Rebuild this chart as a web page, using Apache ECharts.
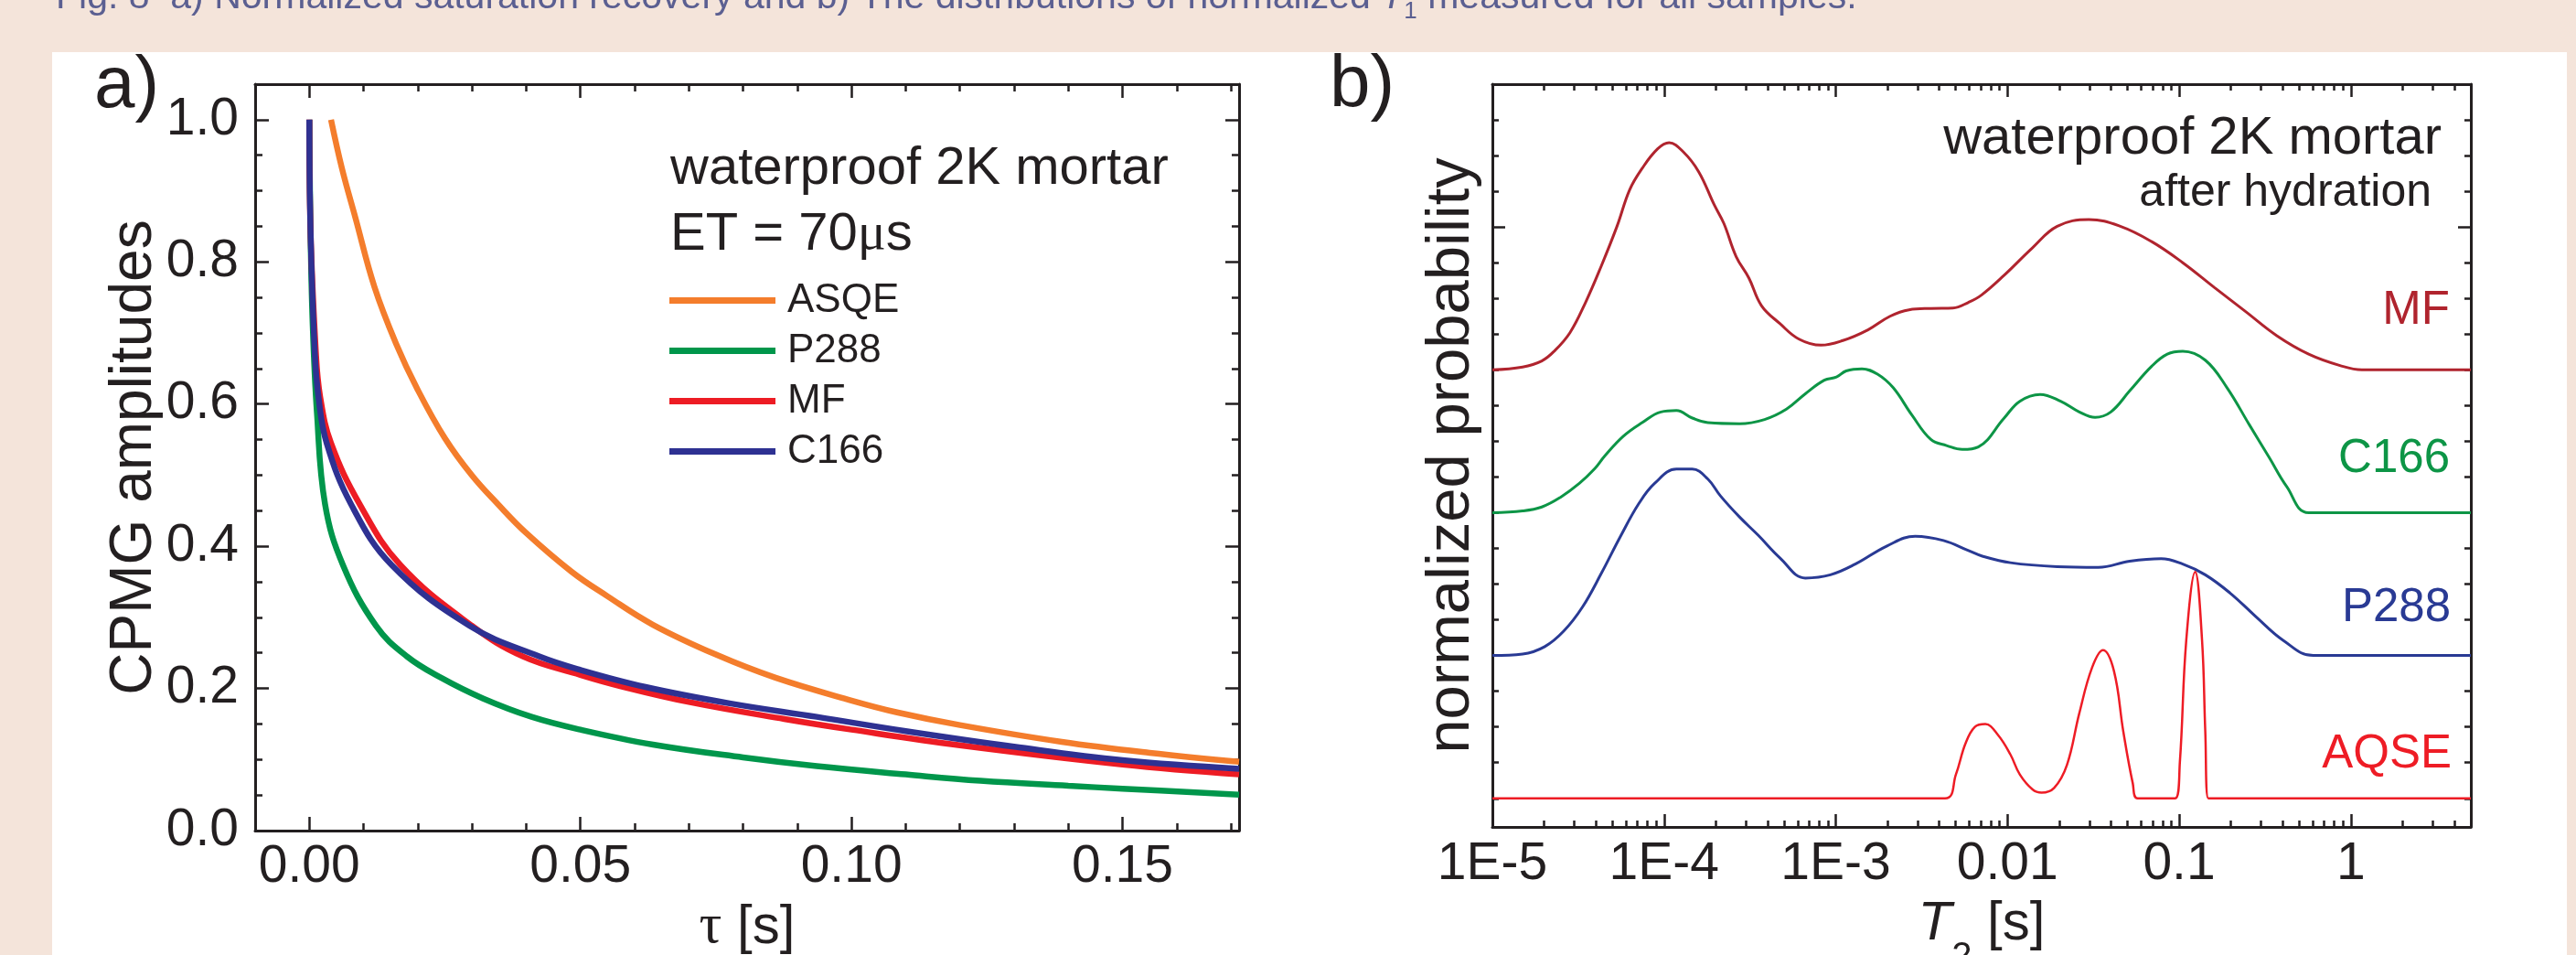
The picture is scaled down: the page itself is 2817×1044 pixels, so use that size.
<!DOCTYPE html>
<html>
<head>
<meta charset="utf-8">
<script src="https://cdn.jsdelivr.net/npm/echarts@6/dist/echarts.min.js"></script>
<style>
html,body{margin:0;padding:0;background:#f4e4da;}
#c{width:2817px;height:1044px;}
</style>
</head>
<body>
<div id="c"></div>
<script>
// ---------------- Panel a: CPMG decays ----------------
const tauASQE = [0.004, 0.006, 0.0085, 0.012, 0.016, 0.020, 0.025, 0.030, 0.0348, 0.040, 0.0484, 0.055, 0.0634, 0.075, 0.086, 0.10, 0.1086, 0.12, 0.1388, 0.155, 0.1715];
const ampASQE = [1.0, 0.932, 0.862, 0.765, 0.685, 0.620, 0.552, 0.4995, 0.459, 0.4186, 0.364, 0.3296, 0.2895, 0.2476, 0.215, 0.183, 0.166, 0.1484, 0.1248, 0.1094, 0.0968];

const tauP288 = [0, 0.0002, 0.0006, 0.0014, 0.0029, 0.0062, 0.0123, 0.018, 0.0243, 0.032, 0.041, 0.05, 0.0634, 0.08, 0.0936, 0.11, 0.1238, 0.14, 0.15, 0.1715];
const ampP288 = [1.0, 0.85, 0.716, 0.588, 0.459, 0.3735, 0.288, 0.245, 0.215, 0.186, 0.160, 0.142, 0.121, 0.103, 0.0907, 0.079, 0.070, 0.063, 0.059, 0.0505];

const tauMF = [0, 0.0002, 0.0012, 0.002, 0.004, 0.0093, 0.0168, 0.030, 0.0394, 0.05, 0.0575, 0.07, 0.0876, 0.10, 0.12, 0.15, 0.1715];
const ampMF = [1.0, 0.85, 0.673, 0.61, 0.545, 0.459, 0.3735, 0.288, 0.245, 0.219, 0.203, 0.181, 0.157, 0.142, 0.120, 0.093, 0.079];

const tauC166 = [0, 0.0002, 0.001, 0.0017, 0.0032, 0.0077, 0.0152, 0.0296, 0.0424, 0.05, 0.062, 0.0775, 0.0936, 0.11, 0.13, 0.15, 0.1715];
const ampC166 = [1.0, 0.85, 0.673, 0.609, 0.545, 0.459, 0.3735, 0.288, 0.245, 0.226, 0.202, 0.179, 0.160, 0.140, 0.118, 0.099, 0.087];

const aXMajor = [0, 0.05, 0.10, 0.15];
const aXMinor = [0.01, 0.02, 0.03, 0.04, 0.06, 0.07, 0.08, 0.09, 0.11, 0.12, 0.13, 0.14, 0.16, 0.17];
const aYMajor = [0, 0.2, 0.4, 0.6, 0.8, 1.0];
const aYMinor = [0.05, 0.1, 0.15, 0.25, 0.3, 0.35, 0.45, 0.5, 0.55, 0.65, 0.7, 0.75, 0.85, 0.9, 0.95];
const legendA = ['ASQE', 'P288', 'MF', 'C166'];

// ---------------- Panel b: T2 distributions ----------------
const t2MF = [1e-5, 1.50e-5, 1.94e-5, 2.29e-5, 2.83e-5, 3.49e-5, 4.31e-5, 5.32e-5, 6.30e-5, 7.45e-5, 9.18e-5, 1.07e-4, 1.29e-4, 1.59e-4, 1.96e-4, 2.23e-4, 2.63e-4, 3.12e-4, 3.69e-4, 4.74e-4, 6.11e-4, 8.20e-4, 1.10e-3, 1.54e-3, 2.07e-3, 2.67e-3, 3.58e-3, 4.81e-3, 5.93e-3, 7.08e-3, 9.57e-3, 0.0140, 0.0195, 0.0298, 0.0454, 0.0692, 0.105, 0.160, 0.244, 0.372, 0.568, 0.865, 1.16, 5];
const pMF  = [0, 0.08, 0.25, 0.52, 1.04, 1.89, 2.91, 4.02, 5.04, 5.64, 6.19, 6.36, 6.11, 5.55, 4.62, 4.10, 3.17, 2.57, 1.80, 1.29, 0.86, 0.69, 0.82, 1.12, 1.50, 1.68, 1.72, 1.73, 1.89, 2.10, 2.65, 3.42, 4.02, 4.21, 4.02, 3.59, 3.00, 2.31, 1.63, 0.95, 0.44, 0.12, 0, 0];

const t2C166 = [1e-5, 1.50e-5, 1.94e-5, 2.49e-5, 3.21e-5, 3.96e-5, 4.50e-5, 5.79e-5, 7.45e-5, 9.59e-5, 1.18e-4, 1.46e-4, 1.80e-4, 2.75e-4, 3.85e-4, 5.16e-4, 6.65e-4, 8.57e-4, 1.01e-3, 1.15e-3, 1.42e-3, 1.75e-3, 2.16e-3, 2.78e-3, 3.58e-3, 4.42e-3, 5.46e-3, 6.76e-3, 9.57e-3, 0.0118, 0.0155, 0.0204, 0.0262, 0.0324, 0.0400, 0.0515, 0.0692, 0.0853, 0.105, 0.142, 0.190, 0.255, 0.335, 0.423, 0.568, 5];
const pC166  = [0, 0.05, 0.16, 0.43, 0.82, 1.24, 1.58, 2.14, 2.52, 2.82, 2.86, 2.65, 2.52, 2.49, 2.61, 2.90, 3.33, 3.71, 3.80, 3.97, 4.03, 3.88, 3.50, 2.73, 2.05, 1.88, 1.77, 1.84, 2.65, 3.12, 3.31, 3.12, 2.82, 2.67, 2.82, 3.41, 4.10, 4.44, 4.52, 4.27, 3.50, 2.48, 1.54, 0.73, 0, 0];

const t2P288 = [1e-5, 1.50e-5, 2.02e-5, 2.60e-5, 3.35e-5, 4.31e-5, 5.55e-5, 7.14e-5, 8.81e-5, 1.18e-4, 1.46e-4, 1.80e-4, 2.13e-4, 2.75e-4, 3.53e-4, 4.74e-4, 6.65e-4, 9.31e-4, 1.30e-3, 1.99e-3, 2.90e-3, 4.24e-3, 5.93e-3, 7.08e-3, 0.0104, 0.0195, 0.0338, 0.0515, 0.0785, 0.105, 0.142, 0.198, 0.277, 0.405, 0.604, 5];
const pP288  = [0, 0.04, 0.25, 0.68, 1.36, 2.30, 3.32, 4.26, 4.82, 5.22, 5.22, 4.94, 4.47, 3.88, 3.37, 2.73, 2.17, 2.26, 2.56, 3.07, 3.34, 3.22, 2.94, 2.79, 2.60, 2.49, 2.47, 2.64, 2.71, 2.56, 2.26, 1.75, 1.11, 0.42, 0, 0];

const t2AQSE = [1e-5, 4.33e-3, 5.01e-3, 5.69e-3, 6.46e-3, 7.43e-3, 8.79e-3, 0.0104, 0.0118, 0.0140, 0.0158, 0.0187, 0.0222, 0.0262, 0.0311, 0.0360, 0.0417, 0.0473, 0.0537, 0.0573, 0.0948, 0.101, 0.110, 0.124, 0.136, 0.142, 0.148, 5];
const pAQSE  = [0, 0, 0.67, 1.53, 2.00, 2.08, 1.78, 1.23, 0.67, 0.25, 0.16, 0.29, 0.93, 2.38, 3.66, 4.15, 3.57, 1.87, 0.42, 0, 0, 1.02, 4.42, 6.34, 4.42, 1.87, 0, 0];

const baseOffsets = {MF: 12, C166: 8, P288: 4, AQSE: 0};
const bXLabels = ['1E-5', '1E-4', '1E-3', '0.01', '0.1', '1'];
const bXMinor = [];
[1e-5, 1e-4, 1e-3, 1e-2, 1e-1, 1].forEach(d => { for (let k = 2; k <= 9; k++) { const v = k * d; if (v < 5) bXMinor.push(v); } });
const bYMajor = [16];
const bYMinor = [0,1,2,3,4,5,6,7,8,9,10,11,12,13,14,15,17,18,19];

// ---------------- styling ----------------
const INK = '#231f20';
const FONT = "'Liberation Sans', Arial, Helvetica, sans-serif";
const SERIF = "'Liberation Serif', 'DejaVu Serif', serif";
const colA = {ASQE: '#f47d2c', P288: '#00964b', MF: '#ed1c24', C166: '#2e3192'};
const colB = {MF: '#b0242e', C166: '#0d9546', P288: '#293a94', AQSE: '#ee1c25'};

const lineAx = {show: true, onZero: false, lineStyle: {color: INK, width: 3}};
function tick(len, vals) {
  const t = {show: true, inside: true, length: len, lineStyle: {color: INK, width: 2.5}};
  if (vals) t.customValues = vals;
  return t;
}
function ax(base, extra) {
  return Object.assign({show: true, splitLine: {show: false}, axisLabel: {show: false},
    axisLine: {show: false, onZero: false}, nameMoveOverlap: false, axisPointer: {show: false}}, base, extra);
}
const aX = {type: 'value', gridIndex: 0, min: -0.01, max: 0.1715};
const aY = {type: 'value', gridIndex: 0, min: 0, max: 1.05};
const bX = {type: 'log', logBase: 10, gridIndex: 1, min: 1e-5, max: 5};
const bY = {type: 'value', gridIndex: 1, min: -0.8, max: 20};

function zip(xs, ys, off) { return xs.map((x, i) => [x, ys[i] + (off || 0)]); }
function lineA(name, xs, ys) {
  return {type: 'line', name, xAxisIndex: 0, yAxisIndex: 0, data: zip(xs, ys), showSymbol: false, symbol: 'none',
    smooth: 0.4, lineStyle: {color: colA[name], width: 6.5}, itemStyle: {color: colA[name]}, silent: true};
}
function lineB(name, xs, ys, w) {
  return {type: 'line', name, xAxisIndex: 4, yAxisIndex: 4, data: zip(xs, ys, baseOffsets[name]), showSymbol: false, symbol: 'none',
    smooth: 0.4, lineStyle: {color: colB[name], width: w}, itemStyle: {color: colB[name]}, silent: true};
}
function txt(x, y, text, size, color, align, extra) {
  return Object.assign({type: 'text', x, y, z: 50, silent: true,
    style: {text, fill: color, fontSize: size, fontFamily: FONT, align: align || 'left', verticalAlign: 'middle'}}, extra || {});
}

const option = {
  animation: false,
  backgroundColor: '#f4e4da',
  textStyle: {fontFamily: FONT},
  grid: [
    {left: 279, top: 92, width: 1076, height: 816, containLabel: false, outerBoundsMode: 'none'},
    {left: 1632, top: 92, width: 1070, height: 812, containLabel: false, outerBoundsMode: 'none'}
  ],
  legend: {
    data: legendA, orient: 'vertical', left: 732, top: 301, padding: 0, itemGap: 0,
    itemWidth: 116, itemHeight: 7, icon: 'rect', selectedMode: false,
    textStyle: {fontSize: 44, color: INK, fontFamily: FONT, lineHeight: 55, padding: [0, 0, 0, 8]}
  },
  xAxis: [
    ax(aX, {position: 'bottom', axisLine: lineAx, axisTick: tick(15, aXMajor),
      axisLabel: {show: true, customValues: aXMajor, formatter: v => v.toFixed(2), margin: 12, fontSize: 57, color: INK, fontFamily: FONT},
      name: '{g|τ} [s]', nameLocation: 'middle', nameGap: 75,
      nameTextStyle: {fontSize: 60, color: INK, fontFamily: FONT, rich: {g: {fontSize: 62, fontFamily: SERIF, color: INK}}}}),
    ax(aX, {position: 'bottom', axisTick: tick(8, aXMinor)}),
    ax(aX, {position: 'top', axisLine: lineAx, axisTick: tick(15, aXMajor)}),
    ax(aX, {position: 'top', axisTick: tick(8, aXMinor)}),
    ax(bX, {position: 'bottom', axisLine: lineAx, axisTick: tick(14),
      axisLabel: {show: true, margin: 13, fontSize: 57, color: INK, fontFamily: FONT,
        formatter: v => { const e = Math.log10(v); const r = Math.round(e); if (Math.abs(e - r) > 1e-6) return ''; return bXLabels[r + 5] || ''; }},
      name: '{i|T}{s|2} [s]', nameLocation: 'middle', nameGap: 76,
      nameTextStyle: {fontSize: 60, lineHeight: 60, color: INK, fontFamily: FONT,
        rich: {i: {fontSize: 60, lineHeight: 60, fontStyle: 'italic', fontFamily: FONT, color: INK},
               s: {fontSize: 40, lineHeight: 40, padding: [74, 0, 0, 0], fontFamily: FONT, color: INK}}}}),
    ax(bX, {position: 'bottom', axisTick: tick(7, bXMinor)}),
    ax(bX, {position: 'top', axisLine: lineAx, axisTick: tick(14)}),
    ax(bX, {position: 'top', axisTick: tick(7, bXMinor)})
  ],
  yAxis: [
    ax(aY, {position: 'left', axisLine: lineAx, axisTick: tick(15, aYMajor),
      axisLabel: {show: true, customValues: aYMajor, formatter: v => v.toFixed(1), margin: 18, fontSize: 57, color: INK, fontFamily: FONT},
      name: 'CPMG amplitudes', nameLocation: 'middle', nameGap: 100,
      nameTextStyle: {fontSize: 64, color: INK, fontFamily: FONT}}),
    ax(aY, {position: 'left', axisTick: tick(8, aYMinor)}),
    ax(aY, {position: 'right', axisLine: lineAx, axisTick: tick(15, aYMajor)}),
    ax(aY, {position: 'right', axisTick: tick(8, aYMinor)}),
    ax(bY, {position: 'left', axisLine: lineAx, axisTick: tick(14, bYMajor),
      name: 'normalized probability', nameLocation: 'middle', nameGap: 11,
      nameTextStyle: {fontSize: 67, color: INK, fontFamily: FONT}}),
    ax(bY, {position: 'left', axisTick: tick(7, bYMinor)}),
    ax(bY, {position: 'right', axisLine: lineAx, axisTick: tick(14, bYMajor)}),
    ax(bY, {position: 'right', axisTick: tick(7, bYMinor)})
  ],
  series: [
    lineA('ASQE', tauASQE, ampASQE),
    lineA('P288', tauP288, ampP288),
    lineA('MF', tauMF, ampMF),
    lineA('C166', tauC166, ampC166),
    lineB('MF', t2MF, pMF, 3),
    lineB('C166', t2C166, pC166, 3),
    lineB('P288', t2P288, pP288, 3),
    lineB('AQSE', t2AQSE, pAQSE, 2.5)
  ],
  graphic: [
    {type: 'rect', z: -100, silent: true, shape: {x: 57, y: 57, width: 2750, height: 1000}, style: {fill: '#ffffff'}},
    {type: 'text', x: 61, y: -23, z: 50, silent: true,
      style: {text: 'Fig. 8  a) Normalized saturation recovery and b) The distributions of normalized {i|T}{s|1} measured for all samples.',
        fill: '#5b5f91', fontSize: 41, fontFamily: FONT, align: 'left', verticalAlign: 'top', lineHeight: 41,
        rich: {i: {fontStyle: 'italic', fontSize: 41, lineHeight: 41, fill: '#5b5f91', fontFamily: FONT},
               s: {fontSize: 26, lineHeight: 26, padding: [31, 0, 0, 0], fill: '#5b5f91', fontFamily: FONT}}}},
    txt(103, 95, 'a)', 80, INK, 'left'),
    txt(1454, 94, 'b)', 80, INK, 'left'),
    txt(733, 185, 'waterproof 2K mortar', 58, INK, 'left'),
    {type: 'text', x: 733, y: 257, z: 50, silent: true,
      style: {text: 'ET = 70{g|μ}s', fill: INK, fontSize: 58, fontFamily: FONT, align: 'left', verticalAlign: 'middle',
        rich: {g: {fontSize: 58, fontFamily: SERIF, fill: INK}}}},
    txt(2670, 152, 'waterproof 2K mortar', 58, INK, 'right'),
    txt(2659, 211, 'after hydration', 50, INK, 'right'),
    txt(2679, 340, 'MF', 51, colB.MF, 'right'),
    txt(2679, 502, 'C166', 51, colB.C166, 'right'),
    txt(2680, 665, 'P288', 51, colB.P288, 'right'),
    txt(2681, 825, 'AQSE', 51, colB.AQSE, 'right')
  ]
};

const chart = echarts.init(document.getElementById('c'), null, {renderer: 'canvas'});
chart.setOption(option);
</script>
</body>
</html>
